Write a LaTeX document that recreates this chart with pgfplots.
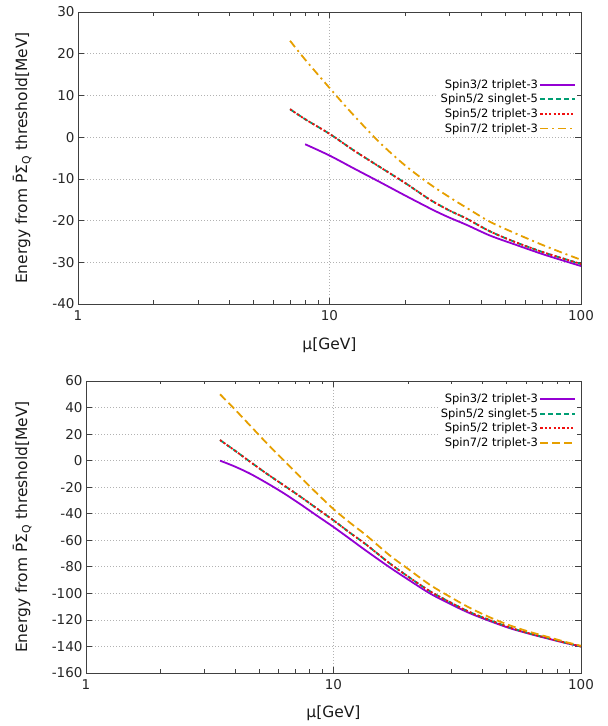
\documentclass[border=0pt]{standalone}
\usepackage{pgfplots}
\pgfplotsset{compat=1.18}
\usepackage{fontspec}
\setmainfont{DejaVu Sans}
\definecolor{cpurple}{HTML}{9400D3}
\definecolor{cgreen}{HTML}{009E73}
\definecolor{cred}{HTML}{F01010}
\definecolor{corange}{HTML}{E69F00}
\pgfplotsset{
  every axis/.append style={
  scale only axis, xmin=1, xmax=100,
  xtick={1,10,100}, xticklabels={1,10,100},
  minor xtick={2,3,4,5,6,7,8,9,20,30,40,50,60,70,80,90},
  minor y tick num=0,
  tick align=inside, major tick length=6pt, minor tick length=3.5pt,
  grid=major, major grid style={dash pattern=on 1pt off 2pt, black!30, line width=0.7pt},
  axis line style={black!75, line width=0.8pt},
  every tick/.style={black!75, line width=0.7pt},
  tick label style={font=\fontsize{13.5}{14}\selectfont, black!85},
  xticklabel style={yshift=-3pt},
  label style={font=\fontsize{15.5}{17}\selectfont, black!90},
  legend style={draw=none, fill=white, font=\fontsize{11.5}{13}\selectfont, row sep=1.4pt, inner sep=1pt, nodes={inner sep=1.5pt}},
  legend cell align=right, legend plot pos=right,
  },
  every axis plot/.append style={line width=1.8pt, smooth},
  legend image code/.code={\draw[line width=1.8pt, #1] (0pt,0pt) -- (35pt,0pt);},
}
\pgfkeys{/pgf/number format/assume math mode=true}
\begin{document}
\begin{tikzpicture}[x=1pt,y=1pt]
\useasboundingbox (0,0) rectangle (608,726);
\begin{axis}[xmode=log, log basis x=10, at={(78pt,422pt)}, anchor=south west,
  width=503pt, height=292pt,
  ymin=-40, ymax=30, ytick={-40,-30,...,30},
  xlabel={μ[GeV]}, ylabel={Energy from \={P}Σ\textsubscript{Q} threshold[MeV]},
  xlabel style={at={(axis description cs:0.5,-0.14)}, anchor=center},
  ylabel style={at={(axis description cs:-0.111,0.5)}, anchor=center},
  legend style={at={(axis description cs:0.993,0.778)}, anchor=north east},
]
\addplot[cpurple] coordinates {(8,-1.7) (10,-4.4) (12.5,-7.5) (15.9,-10.8) (20,-14) (25.9,-17.5) (30,-19.3) (35,-21) (43.5,-23.6) (55,-25.8) (70,-28) (85,-29.6) (100,-30.9)};
\addlegendentry{Spin3/2 triplet-3}
\addplot[cgreen, dash pattern=on 5pt off 3pt] coordinates {(6.97,6.7) (8,4.3) (10,0.8) (12.5,-3.2) (15.9,-7.2) (20,-11) (25.1,-15) (30,-17.6) (35,-19.5) (43.5,-22.6) (55,-25.2) (70,-27.5) (85,-29.1) (100,-30.4)};
\addlegendentry{Spin5/2 singlet-5}
\addplot[cred, dash pattern=on 2.2pt off 2.2pt] coordinates {(6.97,6.7) (8,4.3) (10,0.8) (12.5,-3.2) (15.9,-7.2) (20,-11) (25.1,-15) (30,-17.6) (35,-19.5) (43.5,-22.6) (55,-25.2) (70,-27.5) (85,-29.1) (100,-30.4)};
\addlegendentry{Spin5/2 triplet-3}
\addplot[corange, dash pattern=on 8pt off 4pt on 2pt off 4pt] coordinates {(6.97,23.1) (8,18.6) (10,11.8) (12.5,5.2) (15.9,-1.4) (20,-6.8) (25.1,-11.3) (30,-14.4) (35,-16.9) (43.5,-20.3) (55,-23.1) (70,-25.8) (85,-27.8) (100,-29.4)};
\addlegendentry{Spin7/2 triplet-3}
\end{axis}
\begin{axis}[xmode=log, log basis x=10, at={(86pt,53pt)}, anchor=south west,
  width=495pt, height=292pt,
  ymin=-160, ymax=60, ytick={-160,-140,...,60},
  xlabel={μ[GeV]}, ylabel={Energy from \={P}Σ\textsubscript{Q} threshold[MeV]},
  xlabel style={at={(axis description cs:0.5,-0.137)}, anchor=center},
  ylabel style={at={(axis description cs:-0.129,0.5)}, anchor=center},
  legend style={at={(axis description cs:0.993,0.965)}, anchor=north east},
]
\addplot[cpurple] coordinates {(3.48,0) (4,-4.5) (4.6,-9.8) (5.37,-16.8) (6.3,-24.6) (7.32,-32.6) (8.5,-41) (10,-50) (11.66,-59) (13.5,-67.7) (16.9,-80.5) (20,-89.5) (24.5,-100) (30,-108.5) (35.6,-115) (43,-121) (51.7,-126.3) (62,-130.5) (75,-134.5) (87,-137.5) (100,-140)};
\addlegendentry{Spin3/2 triplet-3}
\addplot[cgreen, dash pattern=on 5pt off 3pt] coordinates {(3.48,15.5) (4,7.5) (4.6,-0.8) (5.37,-9.8) (6.3,-18.6) (7.32,-26.9) (8.5,-35.6) (10,-45) (11.66,-54.4) (13.5,-63) (16.9,-77.5) (20,-87.3) (24.5,-98.3) (30,-107.3) (35.6,-114.2) (43,-120.3) (51.7,-125.8) (62,-130.2) (75,-134.2) (87,-137.3) (100,-140)};
\addlegendentry{Spin5/2 singlet-5}
\addplot[cred, dash pattern=on 2.2pt off 2.2pt] coordinates {(3.48,15.5) (4,7.5) (4.6,-0.8) (5.37,-9.8) (6.3,-18.6) (7.32,-26.9) (8.5,-35.6) (10,-45) (11.66,-54.4) (13.5,-63) (16.9,-77.5) (20,-87.3) (24.5,-98.3) (30,-107.3) (35.6,-114.2) (43,-120.3) (51.7,-125.8) (62,-130.2) (75,-134.2) (87,-137.3) (100,-140)};
\addlegendentry{Spin5/2 triplet-3}
\addplot[corange, dash pattern=on 8pt off 4pt] coordinates {(3.48,50) (4,38.5) (4.6,26.5) (5.37,13.2) (6.3,0.2) (7.32,-12) (8.5,-24) (10,-36.5) (11.66,-46.8) (13.5,-56) (16.9,-71.5) (20,-81.5) (24.5,-93.5) (30,-103.3) (35.6,-111) (43,-118.2) (51.7,-124.2) (62,-129) (75,-133.3) (87,-136.7) (100,-139.5)};
\addlegendentry{Spin7/2 triplet-3}
\end{axis}
\end{tikzpicture}
\end{document}
